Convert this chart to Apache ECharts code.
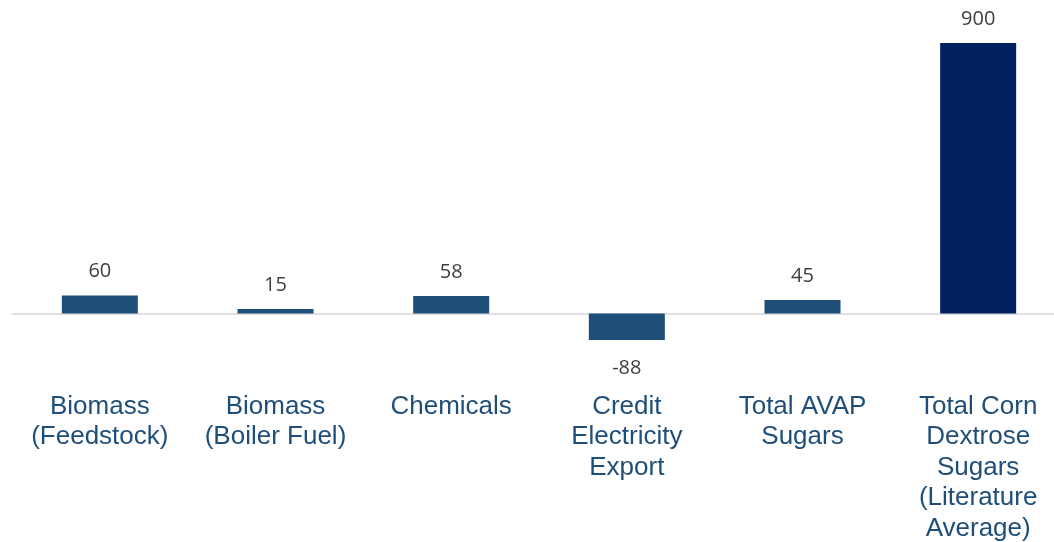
<!DOCTYPE html>
<html>
<head>
<meta charset="utf-8">
<script src="https://cdn.jsdelivr.net/npm/echarts@6/dist/echarts.min.js"></script>
<style>
  html, body { margin: 0; padding: 0; background: #ffffff; }
  #chart { width: 1054px; height: 542px; }
</style>
</head>
<body>
<div id="chart"></div>
<script>
// Cost contributions by source
const categories = [
  'Biomass\n(Feedstock)',
  'Biomass\n(Boiler Fuel)',
  'Chemicals',
  'Credit\nElectricity\nExport',
  'Total AVAP\nSugars',
  'Total Corn\nDextrose\nSugars\n(Literature\nAverage)'
];
const values = [60, 15, 58, -88, 45, 900];
const barColors = ['#1F4E79', '#1F4E79', '#1F4E79', '#1F4E79', '#1F4E79', '#002060'];

const seriesData = values.map((v, i) => ({
  value: v,
  itemStyle: { color: barColors[i] },
  label: v < 0 ? { position: 'bottom', distance: 18 } : { position: 'top', distance: 14 }
}));

const chart = echarts.init(document.getElementById('chart'), null, { renderer: 'canvas' });
chart.setOption({
  animation: false,
  grid: { left: 12, right: -12, top: 43, bottom: 198.5, containLabel: false, outerBoundsMode: 'none' },
  xAxis: {
    type: 'category',
    data: categories,
    axisLine: { onZero: true, lineStyle: { color: '#d6d6d6', width: 1.5 } },
    axisTick: { show: false },
    axisLabel: {
      interval: 0,
      hideOverlap: false,
      margin: 48,
      color: '#1F4E79',
      fontFamily: 'Liberation Sans, Arial, sans-serif',
      fontSize: 26,
      lineHeight: 30.5,
      align: 'center'
    }
  },
  yAxis: {
    type: 'value',
    min: -100,
    max: 900,
    show: false,
    splitLine: { show: false }
  },
  series: [{
    type: 'bar',
    data: seriesData,
    barWidth: 76,
    label: {
      show: true,
      color: '#404040',
      fontFamily: 'Open Sans, Noto Sans, sans-serif',
      fontSize: 20
    }
  }]
});
</script>
</body>
</html>
